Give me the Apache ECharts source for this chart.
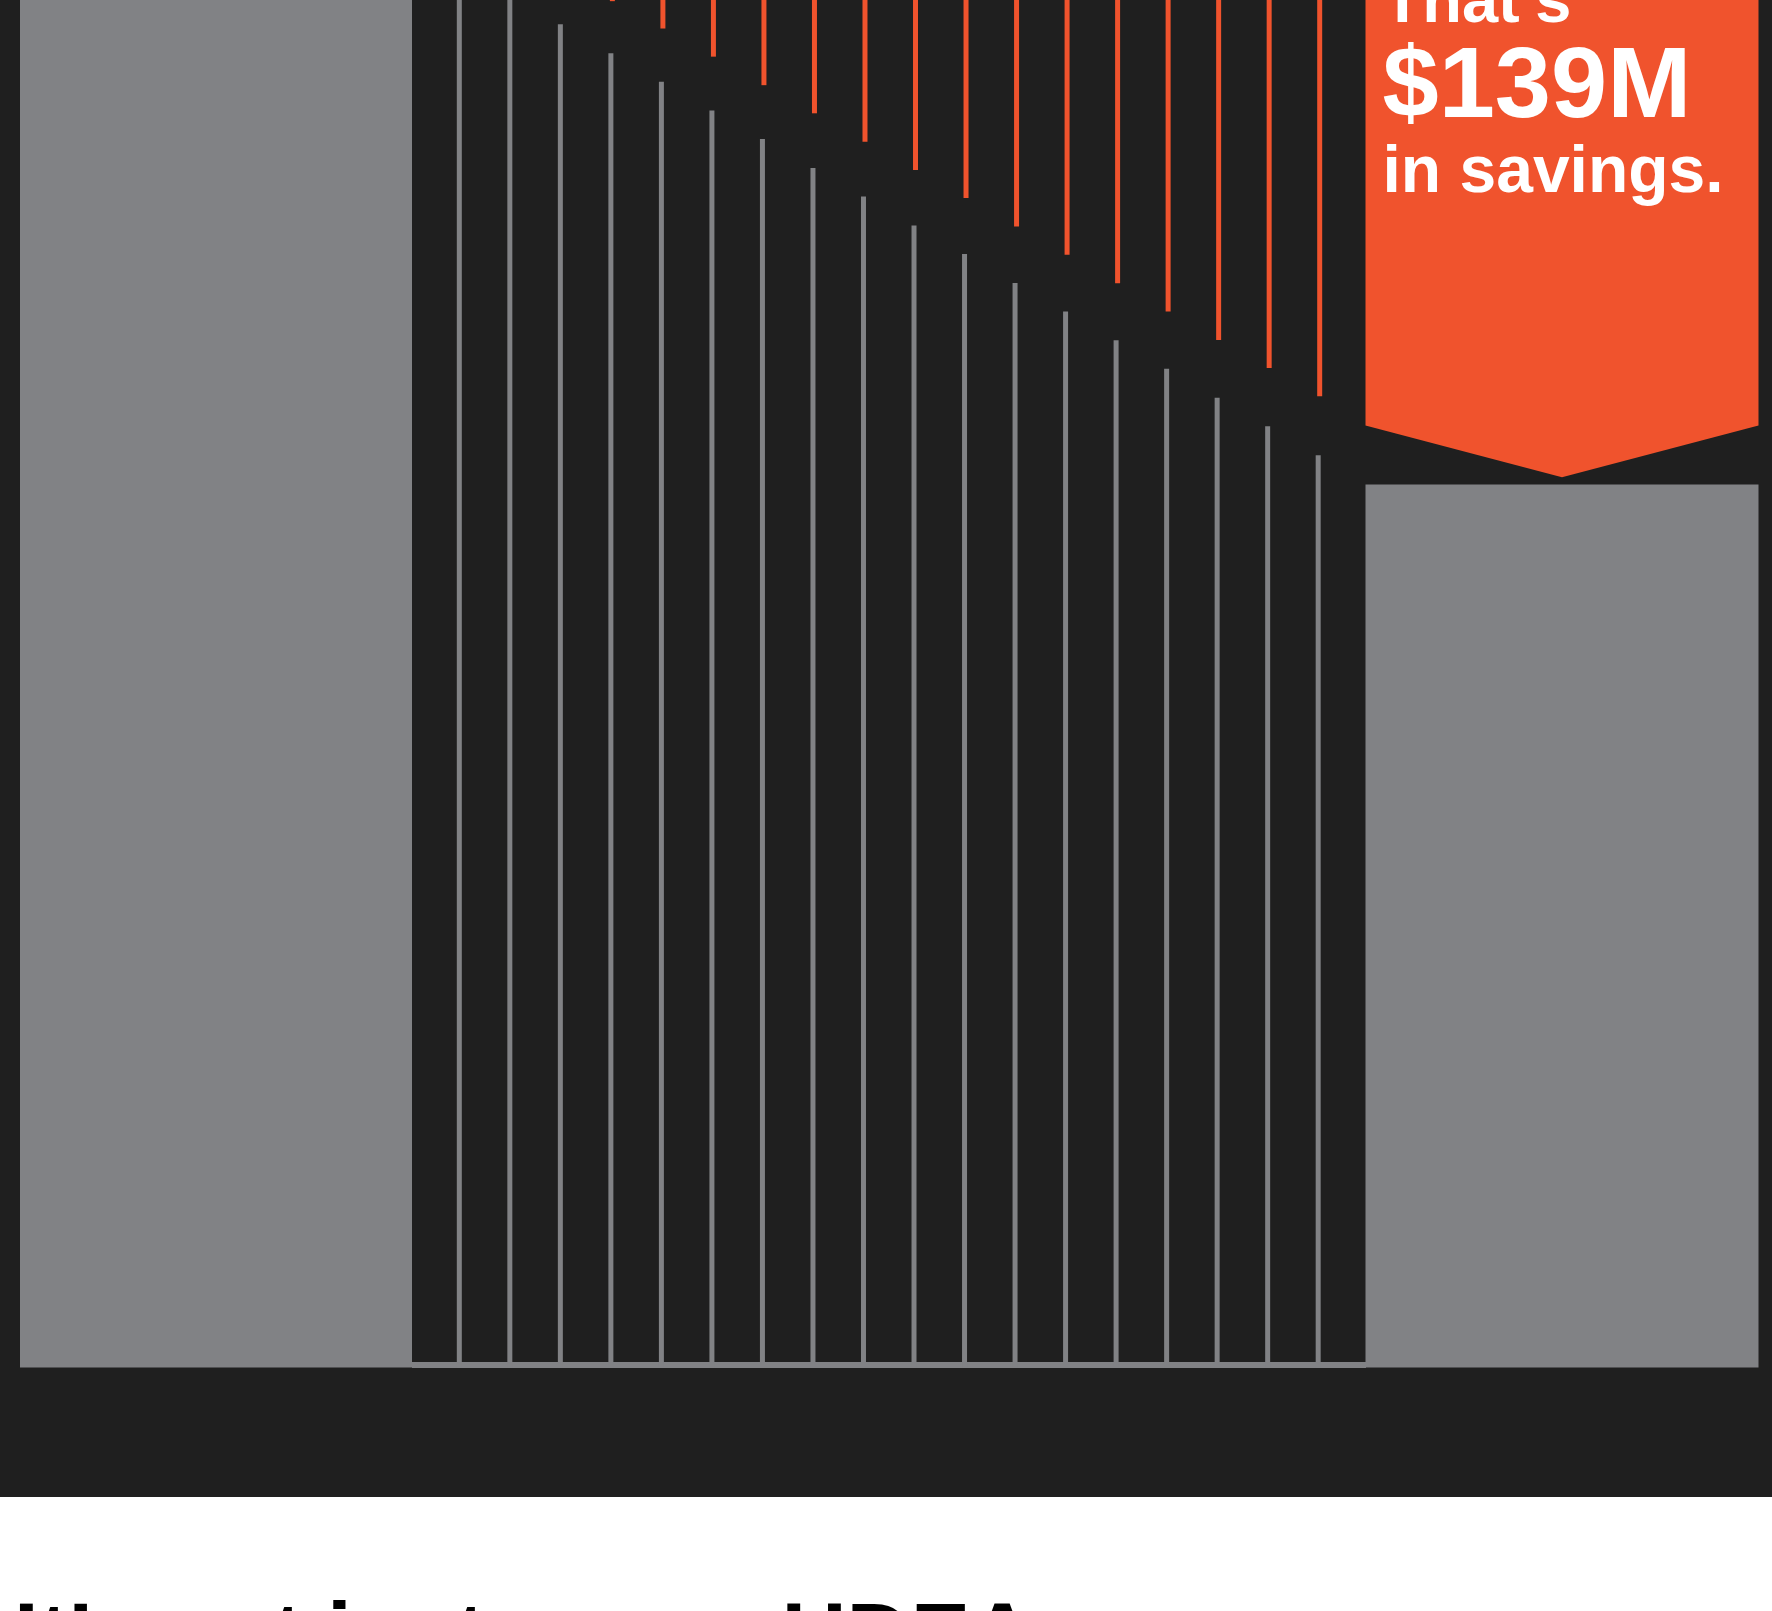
<!DOCTYPE html>
<html>
<head>
<meta charset="utf-8">
<script src="https://cdn.jsdelivr.net/npm/echarts@6/dist/echarts.min.js"></script>
<style>
  html, body { margin: 0; padding: 0; background: #ffffff; }
  #chart { width: 1772px; height: 1611px; }
</style>
</head>
<body>
<div id="chart"></div>
<script>
// ---------- data (values in $M) ----------
const beforeCategory = ['Before'];
const beforeValue = [365];

const monthCategories = ['1','2','3','4','5','6','7','8','9','10','11','12','13','14','15','16','17','18'];
const remainingCost = [358.5, 351.1, 343.8, 336.4, 329.1, 321.7, 314.4, 307.0, 299.7,
                       292.3, 285.0, 277.6, 270.3, 262.9, 255.6, 248.2, 240.9, 233.5];
const savingsLineBottom = [null, null, null, 349.7, 342.7, 335.5, 328.2, 321.0, 313.7,
                           306.5, 299.3, 292.0, 284.8, 277.5, 270.3, 263.0, 255.8, 248.6];
const savingsLineTop = 400;

const afterCategory = ['After'];
const afterValue = [226];

const savingsLabel = ['That\u2019s', '$139M', 'in savings.'];
const footerText = 'It\u2019s not just a new UDEA';

// ---------- styles ----------
const DARK = '#1f1f1f';
const GREY = '#818285';
const ORANGE = '#f0532d';
const FONT = '"Liberation Sans", Arial, Helvetica, sans-serif';

const Y_MAX = 350;
const gridTop = 0;
const gridBottom = 1611 - 1367.5;

const chart = echarts.init(document.getElementById('chart'), null, { renderer: 'canvas' });

function yAxis(idx) {
  return { gridIndex: idx, type: 'value', min: 0, max: Y_MAX, show: false };
}
function xAxis(idx, data) {
  return { gridIndex: idx, type: 'category', data: data, show: false, boundaryGap: true };
}

const option = {
  backgroundColor: '#ffffff',
  animation: false,
  grid: [
    { left: 20, width: 392, top: gridTop, bottom: gridBottom },
    { left: 434.8, width: 909.4, top: gridTop, bottom: gridBottom },
    { left: 1365.5, width: 393, top: gridTop, bottom: gridBottom }
  ],
  xAxis: [xAxis(0, beforeCategory), xAxis(1, monthCategories), xAxis(2, afterCategory)],
  yAxis: [yAxis(0), yAxis(1), yAxis(2)],
  graphic: [
    { type: 'rect', z: -10, shape: { x: 0, y: 0, width: 1772, height: 1497 }, style: { fill: DARK } },
    { type: 'rect', z: -5, shape: { x: 412, y: 1362, width: 954, height: 6 }, style: { fill: GREY } },
    { type: 'text', z: 10, x: 14, y: 1640,
      style: { text: footerText, fill: '#000000', fontSize: 89, fontWeight: 'bold', fontFamily: FONT,
               align: 'left', verticalAlign: 'middle' } }
  ],
  series: [
    { name: 'Before', type: 'bar', xAxisIndex: 0, yAxisIndex: 0, data: beforeValue,
      barWidth: '100%', itemStyle: { color: GREY } },
    { name: 'Remaining cost', type: 'bar', xAxisIndex: 1, yAxisIndex: 1, data: remainingCost,
      barWidth: 5, barGap: '-70%', itemStyle: { color: GREY } },
    { name: 'savingsBase', type: 'bar', stack: 'sav', xAxisIndex: 1, yAxisIndex: 1,
      data: savingsLineBottom, barWidth: 5, barGap: '-70%',
      itemStyle: { color: 'transparent' }, silent: true },
    { name: 'Savings', type: 'bar', stack: 'sav', xAxisIndex: 1, yAxisIndex: 1,
      data: savingsLineBottom.map(v => v == null ? null : savingsLineTop - v),
      barWidth: 5, barGap: '-70%', itemStyle: { color: ORANGE } },
    { name: 'After', type: 'bar', xAxisIndex: 2, yAxisIndex: 2, data: afterValue,
      barWidth: '100%', itemStyle: { color: GREY } },
    { name: 'Savings banner', type: 'custom', xAxisIndex: 2, yAxisIndex: 2, clip: false, z: 5,
      data: [[0, afterValue[0]]],
      renderItem: function (params, api) {
        const p = api.coord([api.value(0), api.value(1)]);
        const w = api.size([1, 0])[0];
        const x0 = p[0] - w / 2, x1 = p[0] + w / 2, yb = p[1];
        const tx = x0 + 17;
        return {
          type: 'group',
          children: [
            { type: 'polygon',
              shape: { points: [[x0, -60], [x1, -60], [x1, yb - 59], [p[0], yb - 7.3], [x0, yb - 59]] },
              style: { fill: ORANGE } },
            { type: 'text', x: tx, y: 4,
              style: { text: savingsLabel[0], fill: '#ffffff', fontSize: 65, fontWeight: 'bold',
                       fontFamily: FONT, align: 'left', verticalAlign: 'middle' } },
            { type: 'text', x: tx, y: 88.7,
              style: { text: savingsLabel[1], fill: '#ffffff', fontSize: 101, fontWeight: 'bold',
                       fontFamily: FONT, align: 'left', verticalAlign: 'middle' } },
            { type: 'text', x: tx, y: 174,
              style: { text: savingsLabel[2], fill: '#ffffff', fontSize: 66, fontWeight: 'bold',
                       fontFamily: FONT, align: 'left', verticalAlign: 'middle' } }
          ]
        };
      }
    }
  ]
};
chart.setOption(option);
</script>
</body>
</html>
